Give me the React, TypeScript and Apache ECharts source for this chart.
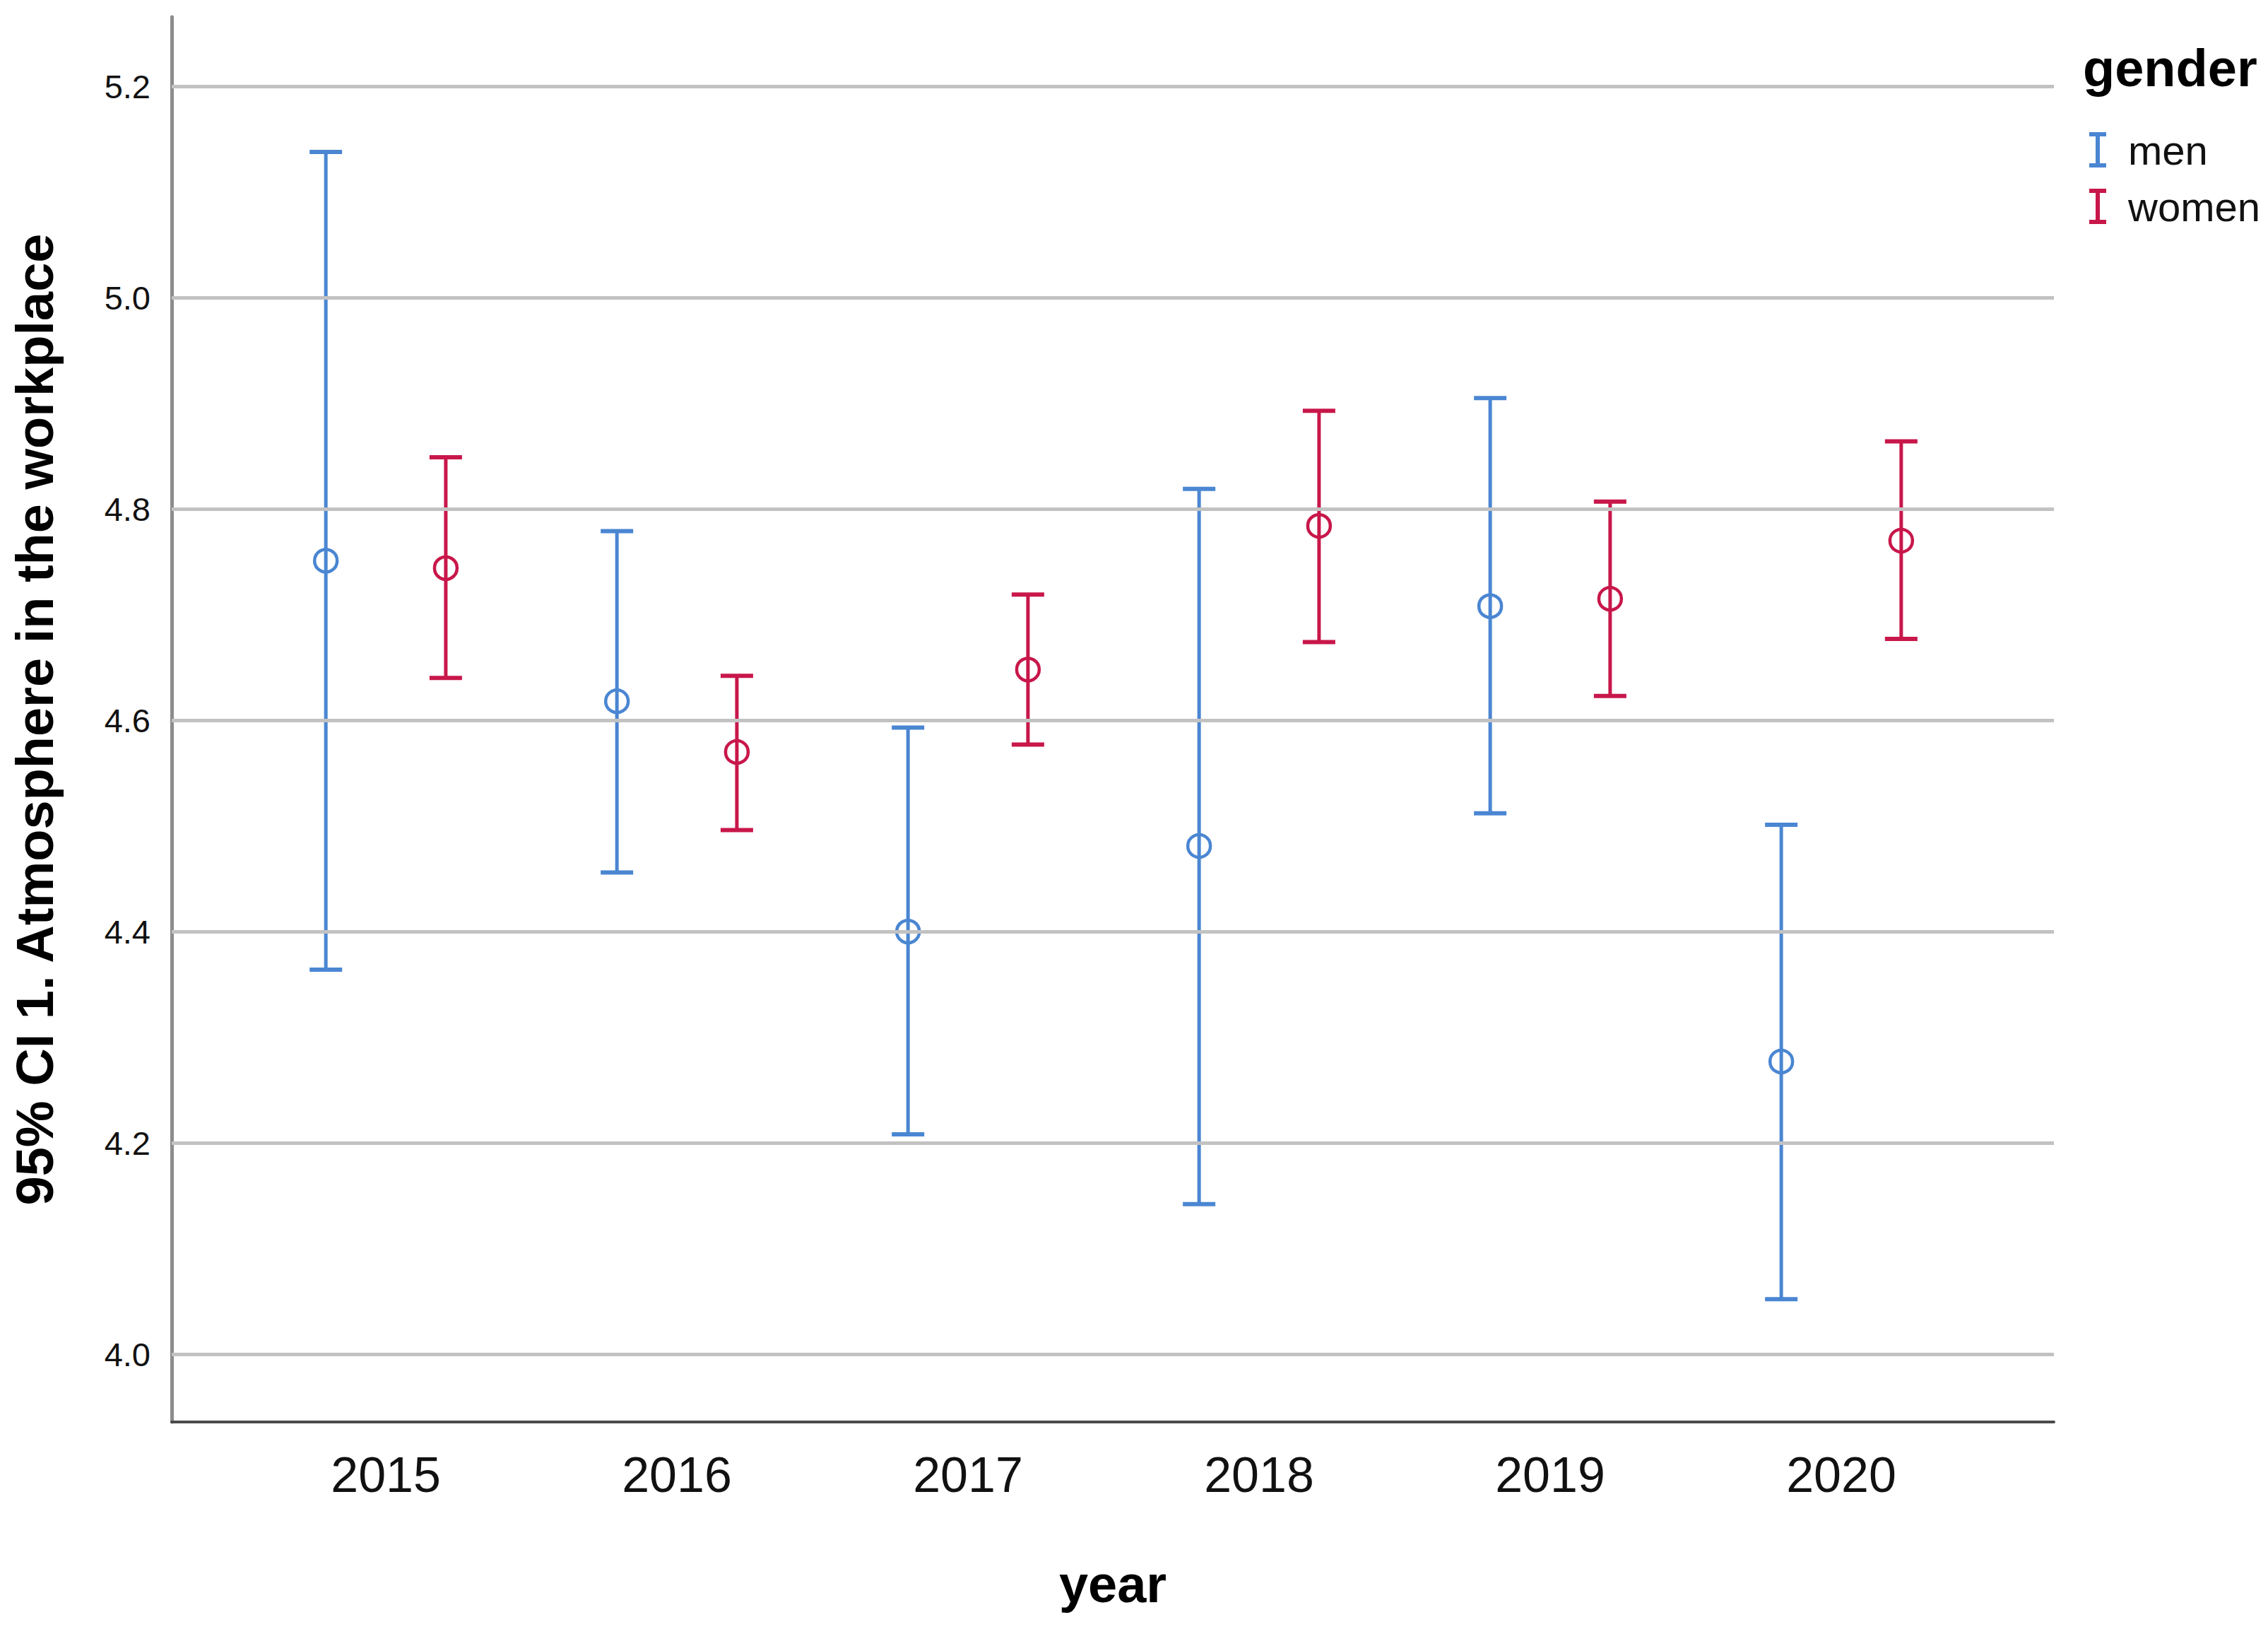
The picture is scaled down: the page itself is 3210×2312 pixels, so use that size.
import React, { useEffect, useRef } from "react";
import * as echarts from "echarts";

const years = ["2015", "2016", "2017", "2018", "2019", "2020"];
const menMean = [4.751, 4.618, 4.4, 4.481, 4.708, 4.277];
const menLower = [4.364, 4.456, 4.208, 4.142, 4.512, 4.052];
const menUpper = [5.138, 4.779, 4.593, 4.819, 4.905, 4.501];
const womenMean = [4.744, 4.57, 4.648, 4.784, 4.715, 4.77];
const womenLower = [4.64, 4.496, 4.577, 4.674, 4.623, 4.677];
const womenUpper = [4.849, 4.642, 4.719, 4.893, 4.807, 4.864];
const yTicks = [4.0, 4.2, 4.4, 4.6, 4.8, 5.0, 5.2];

const MEN_COLOR = "#4a86d2";
const WOMEN_COLOR = "#c8174a";
const OFFSET = 0.206;
const FONT = "'Liberation Sans', Arial, sans-serif";

function makeRender(color: string) {
  return (params: any, api: any) => {
    const x = api.value(0);
    const lo = api.value(1);
    const hi = api.value(2);
    const m = api.value(3);
    const pLo = api.coord([x, lo]);
    const pHi = api.coord([x, hi]);
    const pM = api.coord([x, m]);
    const hw = 23;
    return {
      type: "group",
      children: [
        {
          type: "line",
          shape: { x1: pLo[0], y1: pLo[1], x2: pHi[0], y2: pHi[1] },
          style: { stroke: color, lineWidth: 5 },
        },
        {
          type: "line",
          shape: { x1: pLo[0] - hw, y1: pLo[1], x2: pLo[0] + hw, y2: pLo[1] },
          style: { stroke: color, lineWidth: 6 },
        },
        {
          type: "line",
          shape: { x1: pHi[0] - hw, y1: pHi[1], x2: pHi[0] + hw, y2: pHi[1] },
          style: { stroke: color, lineWidth: 6 },
        },
        {
          type: "circle",
          shape: { cx: pM[0], cy: pM[1], r: 16 },
          style: { stroke: color, fill: "none", lineWidth: 4.5 },
        },
      ],
    };
  };
}

const ICON = "path://M0,0h24v6h-9v38h9v6h-24v-6h9v-38h-9z";

export default function App() {
  const ref = useRef<HTMLDivElement>(null);
  useEffect(() => {
    document.body.style.margin = "0";
    const chart = echarts.init(ref.current!, undefined, { renderer: "svg" });
    const menData = years.map((_, i) => [i - OFFSET, menLower[i], menUpper[i], menMean[i]]);
    const womenData = years.map((_, i) => [i + OFFSET, womenLower[i], womenUpper[i], womenMean[i]]);
    chart.setOption({
      animation: false,
      backgroundColor: "#ffffff",
      grid: { left: 243, right: 303, top: 24, bottom: 300 },
      xAxis: {
        type: "value",
        min: -0.7356,
        max: 5.7306,
        splitLine: { show: false },
        axisTick: { show: false },
        axisLine: { show: true, onZero: false, lineStyle: { color: "#4a4a4a", width: 4 } },
        axisLabel: {
          customValues: [0, 1, 2, 3, 4, 5],
          formatter: (v: number) => years[Math.round(v)] ?? "",
          fontSize: 70,
          fontFamily: FONT,
          color: "#111111",
          margin: 40,
        },
      },
      yAxis: {
        type: "value",
        min: 3.9358,
        max: 5.2657,
        splitLine: { show: false },
        axisTick: { show: false },
        axisLine: { show: true, onZero: false, lineStyle: { color: "#8c8c8c", width: 5 } },
        axisLabel: {
          customValues: yTicks,
          formatter: (v: number) => v.toFixed(1),
          fontSize: 47,
          fontFamily: FONT,
          color: "#111111",
          margin: 30,
        },
      },
      legend: {
        orient: "vertical",
        left: 2952,
        top: 178,
        itemWidth: 24,
        itemHeight: 50,
        itemGap: 22,
        textStyle: { fontSize: 58, fontFamily: FONT, color: "#111111", padding: [0, 0, 0, 26] },
        data: [
          { name: "men", icon: ICON, itemStyle: { color: MEN_COLOR } },
          { name: "women", icon: ICON, itemStyle: { color: WOMEN_COLOR } },
        ],
      },
      graphic: [
        {
          type: "text",
          x: 49,
          y: 1018,
          rotation: Math.PI / 2,
          style: {
            text: "95% CI 1. Atmosphere in the workplace",
            fontSize: 74,
            fontWeight: "bold",
            fontFamily: FONT,
            fill: "#000000",
            align: "center",
            verticalAlign: "middle",
          },
        },
        {
          type: "text",
          x: 1575,
          y: 2241,
          style: {
            text: "year",
            fontSize: 74,
            fontWeight: "bold",
            fontFamily: FONT,
            fill: "#000000",
            align: "center",
            verticalAlign: "middle",
          },
        },
        {
          type: "text",
          x: 2948,
          y: 96,
          style: {
            text: "gender",
            fontSize: 74,
            fontWeight: "bold",
            fontFamily: FONT,
            fill: "#000000",
            align: "left",
            verticalAlign: "middle",
          },
        },
      ],
      series: [
        {
          name: "grid",
          type: "custom",
          silent: true,
          data: [],
          renderItem: () => null,
          markLine: {
            silent: true,
            symbol: "none",
            label: { show: false },
            lineStyle: { color: "#c2c2c2", width: 5, type: "solid" },
            data: yTicks.map((v) => ({ yAxis: v })),
          },
          z: 1,
        },
        {
          name: "men",
          type: "custom",
          renderItem: makeRender(MEN_COLOR),
          itemStyle: { color: MEN_COLOR },
          encode: { x: 0, y: [1, 2, 3] },
          data: menData,
          z: 3,
        },
        {
          name: "women",
          type: "custom",
          renderItem: makeRender(WOMEN_COLOR),
          itemStyle: { color: WOMEN_COLOR },
          encode: { x: 0, y: [1, 2, 3] },
          data: womenData,
          z: 3,
        },
      ],
    });
    return () => chart.dispose();
  }, []);
  return <div ref={ref} style={{ width: 3210, height: 2312 }} />;
}
